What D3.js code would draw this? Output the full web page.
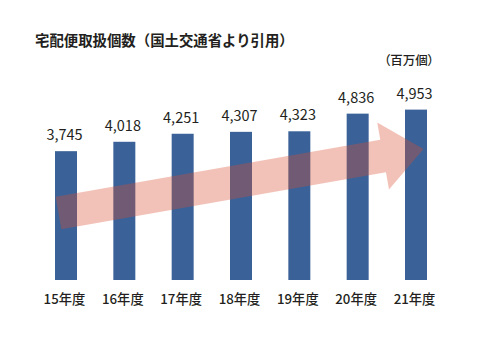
<!DOCTYPE html>
<html><head><meta charset="utf-8">
<script src="https://cdn.jsdelivr.net/npm/d3@7"></script>
<style>
html,body{margin:0;padding:0;background:#fff;}
svg{display:block;}
text{font-family:"Noto Sans CJK JP","Noto Sans",sans-serif;fill:#231f20;}
</style></head>
<body>
<script>
const categories = ["15年度","16年度","17年度","18年度","19年度","20年度","21年度"];
const values = [3745, 4018, 4251, 4307, 4323, 4836, 4953];
const valueLabels = ["3,745","4,018","4,251","4,307","4,323","4,836","4,953"];
const titleText = "宅配便取扱個数（国土交通省より引用）";
const unitText = "（百万個）";
// trend arrow, in value units: from start level at first bar to end level at last bar
const arrowStartValue = 1950;
const arrowEndValue = 3810;

const W = 480, H = 350;
const svg = d3.select("body").append("svg").attr("width", W).attr("height", H);

const x = d3.scaleBand().domain(categories).range([55, 427]).paddingInner(0.623).paddingOuter(0);
const y = d3.scaleLinear().domain([0, 5000]).range([280, 108]);

svg.append("text").attr("x", 35).attr("y", 46)
  .attr("font-size", 14.4).attr("font-weight", 700).text(titleText);

svg.append("text").attr("x", 409).attr("y", 65).attr("text-anchor", "middle")
  .attr("font-size", 12.5).attr("font-weight", 500)
  .style("font-feature-settings", "'palt'").text(unitText);

svg.append("g").selectAll("rect").data(values).join("rect")
  .attr("x", (d, i) => x(categories[i]))
  .attr("y", d => y(d))
  .attr("width", x.bandwidth())
  .attr("height", d => y(0) - y(d))
  .attr("fill", "#3a6298");

svg.append("g").selectAll("text").data(values).join("text")
  .attr("x", (d, i) => x(categories[i]) + x.bandwidth() / 2 - 1.5)
  .attr("y", d => y(d) - 11)
  .attr("text-anchor", "middle")
  .attr("font-size", 14.5)
  .text((d, i) => valueLabels[i]);

const xAxis = d3.axisBottom(x).tickSize(0).tickPadding(0);
const ax = svg.append("g").attr("transform", "translate(-1.5,295)").call(xAxis);
ax.select(".domain").remove();
ax.selectAll("text").attr("font-size", 13.3).attr("font-weight", 500)
  .attr("fill", "#231f20").style("font-family", '"Noto Sans CJK JP","Noto Sans",sans-serif');

// arrow
const p0 = [x(categories[0]) + 3.5, y(arrowStartValue)];
const p1 = [x(categories[categories.length - 1]) + x.bandwidth() - 3.5, y(arrowEndValue)];
const dx = p1[0] - p0[0], dy = p1[1] - p0[1];
const L = Math.hypot(dx, dy);
const ang = Math.atan2(dy, dx) * 180 / Math.PI;
const shaftHalf = 16.5, headHalf = 34, headLen = 41;
const pts = [[0, -shaftHalf], [L - headLen, -shaftHalf], [L - headLen, -headHalf], [L, 0],
  [L - headLen, headHalf], [L - headLen, shaftHalf], [0, shaftHalf]];
svg.append("path")
  .attr("d", d3.line()(pts) + "Z")
  .attr("transform", `translate(${p0[0]},${p0[1]}) rotate(${ang})`)
  .attr("fill", "rgb(217,76,47)")
  .attr("fill-opacity", 0.34);
</script>
</body></html>
